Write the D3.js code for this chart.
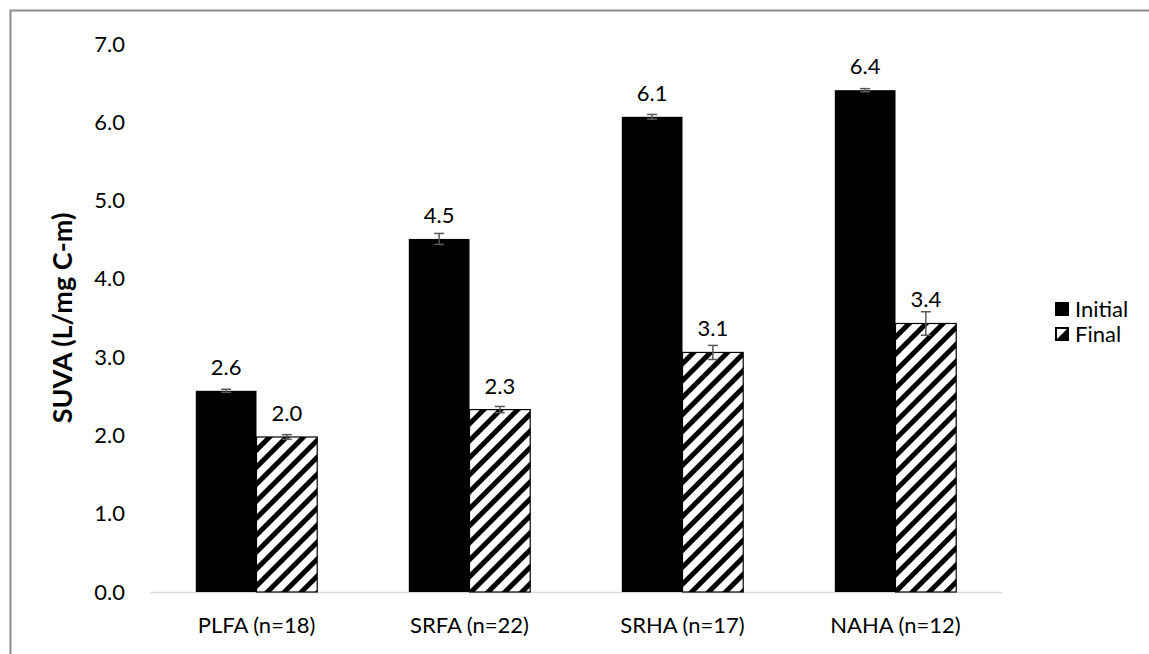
<!DOCTYPE html>
<html>
<head>
<meta charset="utf-8">
<script src="https://cdn.jsdelivr.net/npm/d3@7"></script>
<style>
  body { margin: 0; background: #fff; }
  text { font-family: Lato, "Open Sans", sans-serif; }
</style>
</head>
<body>
<div id="chart"></div>
<script>
// data
var categories = ["PLFA (n=18)", "SRFA (n=22)", "SRHA (n=17)", "NAHA (n=12)"];
var series = ["Initial", "Final"];
var initialVals = [2.57, 4.51, 6.07, 6.41];
var finalVals = [1.98, 2.33, 3.06, 3.43];
var initialErr = [0.02, 0.07, 0.03, 0.02];
var finalErr = [0.03, 0.04, 0.09, 0.15];
var initialLabels = ["2.6", "4.5", "6.1", "6.4"];
var finalLabels = ["2.0", "2.3", "3.1", "3.4"];
var yTicks = [0, 1, 2, 3, 4, 5, 6, 7];

var W = 1149, H = 654;
var margin = {top: 44, right: 147, bottom: 62, left: 150},
    width = W - margin.left - margin.right,
    height = H - margin.top - margin.bottom;
var fs = 22;

var svg = d3.select("#chart").append("svg")
    .attr("width", W).attr("height", H);

// stripe pattern for the Final series
var defs = svg.append("defs");
var pat = defs.append("pattern")
    .attr("id", "hatch")
    .attr("patternUnits", "userSpaceOnUse")
    .attr("width", 12).attr("height", 12)
    .attr("patternTransform", "rotate(45)");
pat.append("rect").attr("width", 12).attr("height", 12).attr("fill", "#fff");
pat.append("rect").attr("x", 0).attr("width", 5).attr("height", 12).attr("fill", "#000");

// outer frame
svg.append("rect")
    .attr("x", 10.5).attr("y", 10.5)
    .attr("width", W + 10).attr("height", H + 10)
    .attr("fill", "none").attr("stroke", "#8c8c8c").attr("stroke-width", 2);

var g = svg.append("g")
    .attr("transform", "translate(" + margin.left + "," + margin.top + ")");

var x = d3.scaleBand().domain(categories).range([0, width]).paddingInner(0.43).paddingOuter(0.215);
var xs = d3.scaleBand().domain(series).range([0, x.bandwidth()]);
var y = d3.scaleLinear().domain([0, 7]).range([height, 0]);

// y tick labels (no axis line)
var yAxis = g.append("g").call(d3.axisLeft(y).tickValues(yTicks).tickFormat(d3.format(".1f")).tickSize(0).tickPadding(25));
yAxis.select(".domain").remove();
yAxis.selectAll("text").attr("font-size", fs).attr("fill", "#000")
    .style("font-family", "Lato, 'Open Sans', sans-serif");

// x labels
var xAxis = g.append("g").attr("transform", "translate(0," + height + ")")
    .call(d3.axisBottom(x).tickSize(0).tickPadding(25));
xAxis.select(".domain").attr("stroke", "#d9d9d9").attr("stroke-width", 1.5);
xAxis.selectAll("text").attr("font-size", fs).attr("fill", "#000")
    .style("font-family", "Lato, 'Open Sans', sans-serif");

var rows = categories.map(function (c, i) {
  return [
    {cat: c, s: "Initial", v: initialVals[i], e: initialErr[i], lab: initialLabels[i]},
    {cat: c, s: "Final", v: finalVals[i], e: finalErr[i], lab: finalLabels[i]}
  ];
}).flat();

g.selectAll(".bar").data(rows).enter().append("rect")
    .attr("class", "bar")
    .attr("x", function (d) { return x(d.cat) + xs(d.s); })
    .attr("y", function (d) { return y(d.v); })
    .attr("width", xs.bandwidth())
    .attr("height", function (d) { return height - y(d.v); })
    .attr("fill", function (d) { return d.s === "Initial" ? "#000" : "url(#hatch)"; })
    .attr("stroke", "#000")
    .attr("stroke-width", function (d) { return d.s === "Initial" ? 0 : 1.2; });

// error bars
var eb = g.selectAll(".err").data(rows).enter().append("g").attr("class", "err")
    .attr("stroke", "#595959").attr("stroke-width", 1.5);
eb.append("line")
    .attr("x1", function (d) { return x(d.cat) + xs(d.s) + xs.bandwidth() / 2; })
    .attr("x2", function (d) { return x(d.cat) + xs(d.s) + xs.bandwidth() / 2; })
    .attr("y1", function (d) { return y(d.v - d.e); })
    .attr("y2", function (d) { return y(d.v + d.e); });
eb.selectAll(".cap").data(function (d) { return [[d, d.v - d.e], [d, d.v + d.e]]; })
  .enter().append("line")
    .attr("x1", function (p) { return x(p[0].cat) + xs(p[0].s) + xs.bandwidth() / 2 - 5; })
    .attr("x2", function (p) { return x(p[0].cat) + xs(p[0].s) + xs.bandwidth() / 2 + 5; })
    .attr("y1", function (p) { return y(p[1]); })
    .attr("y2", function (p) { return y(p[1]); });

// value labels
g.selectAll(".vlab").data(rows).enter().append("text")
    .attr("x", function (d) { return x(d.cat) + xs(d.s) + xs.bandwidth() / 2; })
    .attr("y", function (d) { return y(d.v) - 16; })
    .attr("text-anchor", "middle")
    .attr("font-size", fs)
    .text(function (d) { return d.lab; });

// y title
svg.append("text")
    .attr("transform", "translate(72," + (margin.top + height / 2) + ") rotate(-90)")
    .attr("text-anchor", "middle")
    .attr("font-size", 27).attr("font-weight", "bold")
    .text("SUVA (L/mg C-m)");

// legend
var leg = svg.append("g").attr("transform", "translate(1055,302)");
series.forEach(function (s, i) {
  var r = leg.append("g").attr("transform", "translate(0," + (i * 25) + ")");
  if (s === "Initial") {
    r.append("rect").attr("width", 14).attr("height", 14).attr("fill", "#000");
  } else {
    r.append("rect").attr("x", 1).attr("y", 1).attr("width", 12).attr("height", 12)
        .attr("fill", "#fff").attr("stroke", "#000").attr("stroke-width", 2);
    r.append("path").attr("d", "M13,1 L13,13 L1,13 Z").attr("fill", "#000");
  }
  r.append("text").attr("x", 20).attr("y", 7).attr("dy", "0.35em")
      .attr("font-size", fs).text(s);
});
</script>
</body>
</html>
